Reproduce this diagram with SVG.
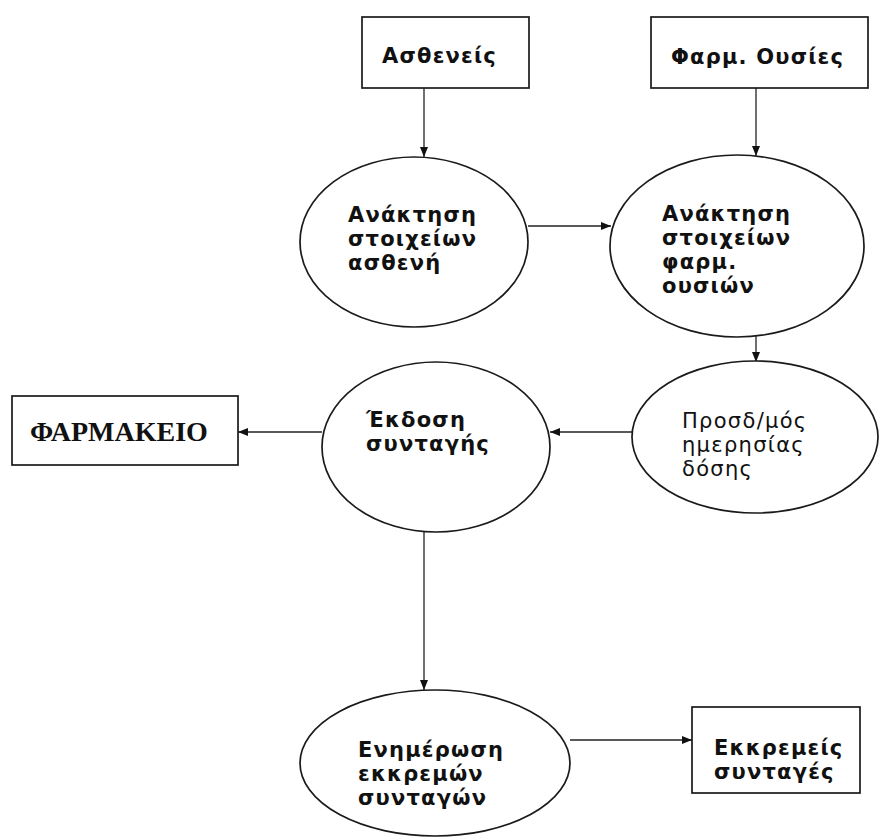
<svg xmlns="http://www.w3.org/2000/svg" width="889" height="837" viewBox="0 0 889 837">
<style>
.shape{fill:#fff;stroke:#1a1a1a;stroke-width:1.7}
.t{font-family:"DejaVu Sans",Verdana,sans-serif;font-size:21px;font-weight:bold;letter-spacing:1.2px;fill:#111}
.r{font-weight:normal;letter-spacing:1.3px}
.serif{font-family:"Liberation Serif","Times New Roman",serif;font-size:28px;font-weight:bold;fill:#111}
.c{stroke:#222;stroke-width:1.3;fill:none;marker-end:url(#ah)}
</style>
<defs>
<marker id="ah" viewBox="0 0 10 8" refX="10" refY="4" markerWidth="10" markerHeight="8" markerUnits="userSpaceOnUse" orient="auto">
<path d="M0,0 L10,4 L0,8 Z" fill="#111"/>
</marker>
</defs>
<rect width="889" height="837" fill="#fff"/>
<g id="connectors">
<line class="c" x1="424" y1="88" x2="424" y2="157"/>
<line class="c" x1="756" y1="88" x2="756" y2="156"/>
<line class="c" x1="528" y1="226" x2="611" y2="226"/>
<line class="c" x1="756" y1="336" x2="756" y2="362"/>
<line class="c" x1="632" y1="432" x2="550" y2="432"/>
<line class="c" x1="322" y1="432" x2="238" y2="432"/>
<line class="c" x1="424" y1="532" x2="424" y2="690"/>
<line class="c" x1="570" y1="740" x2="692" y2="740"/>
</g>
<g id="asthenis">
<rect class="shape" x="362" y="17" width="167" height="71"/>
<text class="t" x="382" y="63">Ασθενείς</text>
</g>
<g id="farm-ousies">
<rect class="shape" x="651" y="17" width="217" height="71"/>
<text class="t" x="671" y="64">Φαρμ. Ουσίες</text>
</g>
<g id="anaktisi-asthenh">
<ellipse class="shape" cx="414" cy="242" rx="114" ry="85"/>
<text class="t" x="348" y="222">Ανάκτηση</text>
<text class="t" x="348" y="246">στοιχείων</text>
<text class="t" x="348" y="270">ασθενή</text>
</g>
<g id="anaktisi-ousion">
<ellipse class="shape" cx="737" cy="246" rx="127" ry="91"/>
<text class="t" x="662" y="221">Ανάκτηση</text>
<text class="t" x="662" y="245">στοιχείων</text>
<text class="t" x="662" y="269">φαρμ.</text>
<text class="t" x="662" y="293">ουσιών</text>
</g>
<g id="prosdiorismos">
<ellipse class="shape" cx="755" cy="437" rx="123" ry="76"/>
<text class="t r" x="682" y="428">Προσδ/μός</text>
<text class="t r" x="682" y="452">ημερησίας</text>
<text class="t r" x="682" y="476">δόσης</text>
</g>
<g id="ekdosi">
<ellipse class="shape" cx="436" cy="447" rx="114" ry="85"/>
<text class="t" x="366" y="427">Έκδοση</text>
<text class="t" x="366" y="451">συνταγής</text>
</g>
<g id="farmakeio">
<rect class="shape" x="12" y="396" width="226" height="69"/>
<text class="serif" x="30" y="441">ΦΑΡΜΑΚΕΙΟ</text>
</g>
<g id="enimerosi">
<ellipse class="shape" cx="435" cy="763" rx="135" ry="73"/>
<text class="t" x="358" y="757">Ενημέρωση</text>
<text class="t" x="358" y="781">εκκρεμών</text>
<text class="t" x="358" y="805">συνταγών</text>
</g>
<g id="ekkremeis">
<rect class="shape" x="692" y="707" width="168" height="86"/>
<text class="t" x="714" y="755">Εκκρεμείς</text>
<text class="t" x="714" y="779">συνταγές</text>
</g>
</svg>
